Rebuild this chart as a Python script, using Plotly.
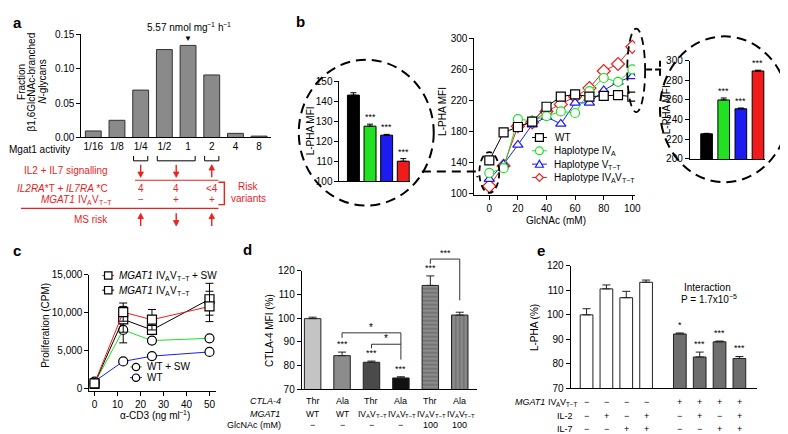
import re
import plotly.graph_objects as go

W, H = 788, 434
FONT = "Liberation Sans, Arial, Helvetica, sans-serif"
RED = "#e8231f"
C_BLACK = "#000000"
C_GREEN = "#22e022"
C_BLUE = "#1c1cf0"
C_RED = "#f01c1c"

# ---------------- data ----------------
# panel a
a_activity = ["1/16", "1/8", "1/4", "1/2", "1", "2", "4", "8"]
a_fraction = [0.0095, 0.025, 0.069, 0.128, 0.134, 0.091, 0.006, 0.002]
a_peak_label = "5.57 nmol mg<sup>−1</sup> h<sup>−1</sup>"
a_peak_category = "1"
a_ytitle = ["Fraction", "β1,6GlcNAc-branched", "<i>N</i>-glycans"]
a_rows = ["IL2 + IL7 signalling", "<i>IL2RA</i>*T + <i>IL7RA</i> *C",
          "<i>MGAT1</i> IV<sub>A</sub>V<sub>T−T</sub>", "MS risk"]
a_group_members = [["1/4"], ["1/2", "1"], ["2"]]
a_signalling = ["down", "down", "up"]
a_il_variants = ["4", "4", "&lt;4"]
a_mgat1_variant = ["−", "+", "+"]
a_ms_risk = ["up", "down", "up"]

# panel b
b_glcnac = [0, 10, 20, 30, 40, 50, 60, 70, 80, 90, 100]
b_wt = [143, 179, 186, 193, 212, 225, 228, 225, 226, 227, 225]
b_iva = [127, 133, 196, 194, 200, 206, 204, 232, 249, 244, 260]
b_vtt = [119, 138, 163, 189, 199, 190, 217, 217, 233, 244, 251]
b_ivavtt = [110, 136, 187, 192, 206, 215, 225, 236, 258, 267, 289]
b_names = ["WT", "Haplotype IV<sub>A</sub>", "Haplotype V<sub>T−T</sub>",
           "Haplotype IV<sub>A</sub>V<sub>T−T</sub>"]
b_inset0 = [143, 127.5, 123, 110]
b_inset0_err = [1.2, 1.0, 0.4, 1.3]
b_inset100 = [225.5, 260, 251, 289.5]
b_inset100_err = [0.5, 2.0, 0.8, 0.8]
b_inset_stars = ["", "***", "***", "***"]

# panel c
c_cd3 = [0, 12.5, 25, 50]
c_mgat1_sw = [650, 10050, 9050, 10800]
c_mgat1_sw_err = [300, 1200, 1350, 2000]
c_mgat1 = [600, 9100, 7700, 11750]
c_mgat1_err = [300, 1700, 600, 2100]
c_wt_sw = [650, 7700, 6300, 6600]
c_wt_sw_err = [200, 1700, 300, 200]
c_wt = [900, 3550, 4250, 4800]
c_wt_err = [200, 200, 200, 200]
c_names = ["<i>MGAT1</i> IV<sub>A</sub>V<sub>T−T</sub> + SW",
           "<i>MGAT1</i> IV<sub>A</sub>V<sub>T−T</sub>", "WT + SW", "WT"]

# panel d
d_ctla4 = ["Thr", "Ala", "Thr", "Ala", "Thr", "Ala"]
d_mgat1 = ["WT", "WT", "IV<sub>A</sub>V<sub>T−T</sub>", "IV<sub>A</sub>V<sub>T−T</sub>",
           "IV<sub>A</sub>V<sub>T−T</sub>", "IV<sub>A</sub>V<sub>T−T</sub>"]
d_glcnac = ["−", "−", "−", "−", "100", "100"]
d_values = [99.8, 84.2, 81.4, 74.8, 113.8, 101.3]
d_err = [0.6, 1.5, 0.5, 0.5, 4.0, 1.2]
d_stars = ["", "***", "***", "***", "***", ""]

# panel e
e_mgat1 = ["−", "−", "−", "−", "+", "+", "+", "+"]
e_il2 = ["−", "+", "−", "+", "−", "+", "−", "+"]
e_il7 = ["−", "−", "+", "+", "−", "−", "+", "+"]
e_values = [100, 110.6, 107, 113.3, 92.2, 82.8, 89, 82.2]
e_err = [2.5, 1.6, 2.6, 0.9, 0.4, 2.0, 0.3, 0.8]
e_stars = ["", "", "", "", "*", "***", "***", "***"]
e_interaction = ["Interaction", "P = 1.7x10<sup>−5</sup>"]

# ---------------- helpers ----------------
layout = dict(width=W, height=H, margin=dict(l=0, r=0, t=0, b=0),
              paper_bgcolor="white", plot_bgcolor="rgba(0,0,0,0)",
              showlegend=False, font=dict(family=FONT, size=10, color="black"))
shapes, annotations = [], []
AX = {}

# Arial / Liberation Sans advance widths (per 1000 em)
AW = {" ": 278, "+": 584, "−": 584, "-": 333, ".": 278, "=": 584, "(": 333, ")": 333,
      "α": 578, "0": 556, "1": 556, "3": 556, "5": 556, "7": 556,
      "A": 667, "C": 722, "D": 722, "G": 778, "H": 722, "I": 278, "M": 833, "P": 667,
      "S": 667, "T": 611, "V": 667, "W": 944,
      "a": 556, "e": 556, "g": 556, "h": 556, "l": 222, "m": 833, "n": 556, "o": 556,
      "p": 556, "t": 278, "x": 500, "y": 500}


def tw(s, size):
    return sum(AW.get(c, 556) for c in s) * size / 1000.0


def make_axes(n, xpx, xr, ypx, yr, xkw=None, ykw=None):
    sfx = "" if n == 1 else str(n)
    AX[n] = (xpx, xr, ypx, yr)
    base = dict(showline=True, linecolor="black", linewidth=1, showgrid=False,
                zeroline=False, ticks="outside", ticklen=4, tickwidth=1,
                tickcolor="black", tickfont=dict(size=10, family=FONT), fixedrange=True)
    xa = dict(base, domain=[xpx[0] / W, xpx[1] / W], range=xr, anchor="y" + sfx)
    ya = dict(base, domain=[1 - ypx[1] / H, 1 - ypx[0] / H], range=yr, anchor="x" + sfx)
    xa.update(xkw or {})
    ya.update(ykw or {})
    layout["xaxis" + sfx] = xa
    layout["yaxis" + sfx] = ya
    return "x" + sfx, "y" + sfx


def dpx(n, x, y=0):
    (x0, x1), (r0, r1), (yt, yb), (s0, s1) = AX[n]
    return (x0 + (x - r0) / (r1 - r0) * (x1 - x0), yb - (y - s0) / (s1 - s0) * (yb - yt))


def ann(text, x, y, size=10, color="black", xanchor="center", yanchor="middle", angle=0):
    annotations.append(dict(text=text, x=x / W, y=1 - y / H, xref="paper", yref="paper",
                            showarrow=False, font=dict(size=size, color=color, family=FONT),
                            xanchor=xanchor, yanchor=yanchor, textangle=angle))


def parse(s):
    segs = []
    for m in re.finditer(r"<(i|sub|sup)>(.*?)</\1>|([^<]+)", s):
        if m.group(3):
            segs.append((m.group(3), ""))
        else:
            segs.append((m.group(2), m.group(1)))
    return segs


def text(s, x, y, size=10, color="black", anchor="center"):
    """Text with sub/superscripts laid out as separate pieces."""
    if "<sub>" not in s and "<sup>" not in s:
        ann(s, x, y, size=size, color=color, xanchor=anchor)
        return
    segs = parse(s)
    ssz = lambda st: size * 0.7 if st in ("sub", "sup") else size
    total = sum(tw(t, ssz(st)) for t, st in segs)
    cur = x if anchor == "left" else (x - total if anchor == "right" else x - total / 2)
    for t, st in segs:
        sz = ssz(st)
        lead = len(t) - len(t.lstrip(" "))
        body = t.strip(" ")
        cur += tw(" " * lead, sz)
        if body:
            dy = {"sub": 0.32 * size, "sup": -0.32 * size}.get(st, 0)
            txt = "<i>%s</i>" % body if st == "i" else body
            annotations.append(dict(text=txt, x=cur / W, y=1 - (y + dy) / H, xref="paper",
                                    yref="paper", showarrow=False, xanchor="left",
                                    yanchor="middle", borderpad=0,
                                    font=dict(size=sz, color=color, family=FONT)))
        cur += tw(body, sz) + tw(" " * (len(t) - lead - len(body)), sz)


def label(letter, x, y):
    annotations.append(dict(text="<b>%s</b>" % letter, x=x / W, y=1 - y / H, xref="paper",
                            yref="paper", showarrow=False, xanchor="left", yanchor="middle",
                            font=dict(size=15, family=FONT, color="black")))


def path(points, color="black", width=1, dash=None, fill=None, closed=False):
    d = "M " + " L ".join(f"{x / W:.5f},{1 - y / H:.5f}" for x, y in points)
    if closed:
        d += " Z"
    shapes.append(dict(type="path", xref="paper", yref="paper", path=d,
                       line=dict(color=color, width=width, dash=dash),
                       fillcolor=fill if fill else "rgba(0,0,0,0)"))


def ellipse(cx, cy, rx, ry, width=2, dash="10px,6px"):
    shapes.append(dict(type="circle", xref="paper", yref="paper",
                       x0=(cx - rx) / W, x1=(cx + rx) / W,
                       y0=1 - (cy + ry) / H, y1=1 - (cy - ry) / H,
                       line=dict(color="black", width=width, dash=dash)))


def arrow(x, y_tail, y_head, color=RED):
    s = 1 if y_head > y_tail else -1
    path([(x, y_tail), (x, y_head - s * 4)], color, 1.4)
    path([(x - 2.8, y_head - s * 5.5), (x + 2.8, y_head - s * 5.5), (x, y_head)],
         color, 0.8, fill=color, closed=True)


def glyph(kind, cx, cy, s, color):
    h = s / 2
    if kind == "square":
        path([(cx - h, cy - h), (cx + h, cy - h), (cx + h, cy + h), (cx - h, cy + h)],
             color, 1.2, fill="white", closed=True)
    elif kind == "circle":
        shapes.append(dict(type="circle", xref="paper", yref="paper",
                           x0=(cx - h) / W, x1=(cx + h) / W, y0=1 - (cy + h) / H,
                           y1=1 - (cy - h) / H, fillcolor="white",
                           line=dict(color=color, width=1.2)))
    elif kind == "triangle":
        path([(cx, cy - h), (cx + h, cy + h * 0.8), (cx - h, cy + h * 0.8)],
             color, 1.2, fill="white", closed=True)
    elif kind == "diamond":
        path([(cx, cy - h), (cx + h, cy), (cx, cy + h), (cx - h, cy)],
             color, 1.2, fill="white", closed=True)


def legend_entry(kind, lcolor, mcolor, name, x0, x1, y, tx, gs=8):
    path([(x0, y), (x1, y)], lcolor, 1)
    glyph(kind, (x0 + x1) / 2, y, gs, mcolor)
    text(name, tx, y, size=10, anchor="left")


def stars(xref, yref, xs, tops, texts, size=9, shift=1):
    for x, t, s in zip(xs, tops, texts):
        if s:
            annotations.append(dict(text=s, x=x, y=t, xref=xref, yref=yref, showarrow=False,
                                    yanchor="bottom", yshift=shift,
                                    font=dict(size=size, family=FONT, color="black")))


fig = go.Figure()

# ---------------- panel a ----------------
label("a", 3, 9)
xa, ya = make_axes(1, (74, 265), [-0.5, 7.5], (21, 127), [0, 0.15],
                   xkw=dict(ticks="", type="category"),
                   ykw=dict(tickvals=[0, 0.05, 0.10, 0.15], tickformat=".2f"))
fig.add_trace(go.Bar(x=a_activity, y=a_fraction, width=0.67, xaxis=xa, yaxis=ya,
                     marker=dict(color="#8a8a8a", line=dict(color="#333333", width=1))))
pkx, _ = dpx(1, a_activity.index(a_peak_category))
text(a_peak_label, pkx, 14, size=10)
ann("▼", pkx, 25, size=8)
for i, t in enumerate(a_ytitle):
    ann(t, 13 + i * 10.5, 70, angle=-90, size=10)
ann("Mgat1 activity", 64, 139, xanchor="right")

centers = []
for grp in a_group_members:
    idx = [a_activity.index(g) for g in grp]
    xl, _ = dpx(1, min(idx) - 0.3)
    xr_, _ = dpx(1, max(idx) + 0.3)
    xc, _ = dpx(1, sum(idx) / len(idx))
    centers.append(xc)
    path([(xl, 146), (xl, 151), (xr_, 151), (xr_, 146)], "black", 1)

row_y = [161, 179, 191, 211]
for i, t in enumerate(a_rows):
    text(t, 103, row_y[i], color=RED, anchor="right")
for xc, d in zip(centers, a_signalling):
    if d == "down":
        arrow(xc, 155, 168)
    else:
        arrow(xc, 168, 155)
for xc, d in zip(centers, a_ms_risk):
    if d == "down":
        arrow(xc, 205, 218)
    else:
        arrow(xc, 218, 205)
for xc, t in zip(centers, a_il_variants):
    ann(t, xc, 179, color=RED)
for xc, t in zip(centers, a_mgat1_variant):
    ann(t, xc, 191, color=RED)
path([(128, 171), (212, 171)], RED, 1.2)
path([(13, 200), (212, 200)], RED, 1.2)
path([(212, 173), (218, 173), (218, 196), (212, 196)], RED, 1.4)
ann("Risk", 242, 177, color=RED)
ann("variants", 242, 190, color=RED)

# ---------------- panel b ----------------
label("b", 288, 8)
bar_cols = [C_BLACK, C_GREEN, C_BLUE, C_RED]
# left inset
xa, ya = make_axes(2, (334, 405), [-0.84, 3.4], (69, 172), [100, 150],
                   xkw=dict(ticks="", showticklabels=False),
                   ykw=dict(tickvals=[100, 110, 120, 130, 140, 150]))
fig.add_trace(go.Bar(x=list(range(4)), y=b_inset0, width=0.72, xaxis=xa, yaxis=ya,
                     marker=dict(color=bar_cols, line=dict(color="black", width=1)),
                     error_y=dict(type="data", symmetric=False, array=b_inset0_err,
                                  arrayminus=[0] * 4, color="black", thickness=1, width=3)))
stars(xa, ya, list(range(4)), [v + e for v, e in zip(b_inset0, b_inset0_err)], b_inset_stars, shift=0)
ann("L-PHA MFI", 305, 120, angle=-90)
ellipse(361, 122, 68, 75)

# main
xa, ya = make_axes(3, (470, 632), [-10.4, 102], (25, 186), [98.75, 300],
                   xkw=dict(tickvals=[0, 20, 40, 60, 80, 100]),
                   ykw=dict(tickvals=[100, 140, 180, 220, 260, 300]))
series = [(b_ivavtt, C_RED, "diamond", 10), (b_vtt, C_BLUE, "triangle-up", 9),
          (b_iva, C_GREEN, "circle", 9), (b_wt, C_BLACK, "square", 9)]
for ys, col, sym, sz in series:
    fig.add_trace(go.Scatter(x=b_glcnac, y=ys, mode="lines+markers", xaxis=xa, yaxis=ya,
                             line=dict(color=col, width=1),
                             marker=dict(symbol=sym, size=sz, color="white",
                                         line=dict(color=col, width=1.2))))
ann("L-PHA MFI", 438, 100, angle=-90)
ann("GlcNAc (mM)", 552, 212)
kinds = ["square", "circle", "triangle", "diamond"]
for i, (nm, col, kd) in enumerate(zip(b_names, bar_cols, kinds)):
    legend_entry(kd, col, col, nm, 528, 543, 127 + i * 13.7, 549)
ellipse(485, 163, 10, 21, width=1.8, dash="6px,4px")
ellipse(633, 58, 9, 43, width=1.8, dash="8px,5px")
path([(417, 162), (473, 162), (473, 168)], "black", 2, dash="9px,6px")
path([(643, 57), (660, 57)], "black", 2, dash="6px,3px")
path([(657, 48), (657, 64)], "black", 2, dash="6px,3px")

# right inset
xa, ya = make_axes(4, (687, 763), [-0.98, 3.42], (48, 149), [200, 300],
                   xkw=dict(ticks="", showticklabels=False),
                   ykw=dict(tickvals=[200, 220, 240, 260, 280, 300]))
fig.add_trace(go.Bar(x=list(range(4)), y=b_inset100, width=0.68, xaxis=xa, yaxis=ya,
                     marker=dict(color=bar_cols, line=dict(color="black", width=1)),
                     error_y=dict(type="data", symmetric=False, array=b_inset100_err,
                                  arrayminus=[0] * 4, color="black", thickness=1, width=3)))
stars(xa, ya, list(range(4)), [v + e for v, e in zip(b_inset100, b_inset100_err)], b_inset_stars, shift=0)
ann("L-PHA MFI", 663, 98, angle=-90)
ellipse(722, 98, 65, 75)

# ---------------- panel c ----------------
label("c", 3, 243)
xa, ya = make_axes(5, (82, 210), [-2.2, 53], (268, 388), [-385, 15000],
                   xkw=dict(tickvals=[0, 10, 20, 30, 40, 50]),
                   ykw=dict(tickvals=[0, 5000, 10000, 15000], tickformat=","))
c_series = [(c_wt, c_wt_err, C_BLUE, "circle"), (c_wt_sw, c_wt_sw_err, C_GREEN, "circle"),
            (c_mgat1, c_mgat1_err, C_BLACK, "square"),
            (c_mgat1_sw, c_mgat1_sw_err, C_RED, "square")]
for ys, er, col, sym in c_series:
    fig.add_trace(go.Scatter(x=c_cd3, y=ys, mode="lines+markers", xaxis=xa, yaxis=ya,
                             line=dict(color=col, width=1),
                             error_y=dict(type="data", array=er, color="black",
                                          thickness=1, width=4),
                             marker=dict(symbol=sym, size=9, color="white",
                                         line=dict(color="black", width=1.2))))
ann("Proliferation (CPM)", 37, 320, angle=-90)
text("α-CD3 (ng ml<sup>−1</sup>)", 147, 413)
legend_entry("square", C_RED, "black", c_names[0], 95, 107, 269, 111, gs=7.5)
legend_entry("square", C_BLACK, "black", c_names[1], 95, 107, 284, 111, gs=7.5)
legend_entry("circle", C_GREEN, "black", c_names[2], 123, 135, 363, 138, gs=7.5)
legend_entry("circle", C_BLUE, "black", c_names[3], 123, 135, 374, 138, gs=7.5)

# ---------------- panel d ----------------
label("d", 235, 242)
xa, ya = make_axes(6, (296, 473), [-0.37, 5.6], (264, 386), [70, 120],
                   xkw=dict(ticks="", showticklabels=False),
                   ykw=dict(tickvals=[70, 80, 90, 100, 110, 120]))
d_cols = ["#c4c4c4", "#8c8c8c", "#4a4a4a", "#111111", "#8a8a8a", "#8a8a8a"]
fig.add_trace(go.Bar(x=list(range(6)), y=d_values, width=0.56, xaxis=xa, yaxis=ya,
                     marker=dict(color=d_cols, line=dict(color="#222222", width=1),
                                 pattern=dict(shape=["", "", "", "", "-", "|"],
                                              bgcolor="white", size=4, solidity=0.3)),
                     error_y=dict(type="data", symmetric=False, array=d_err,
                                  arrayminus=[0] * 6, color="#222222", thickness=1, width=4)))
stars(xa, ya, list(range(6)), [v + e for v, e in zip(d_values, d_err)], d_stars)
pa = [dpx(6, 1, 91.7), dpx(6, 1, 93.8), dpx(6, 3, 93.8), dpx(6, 3, 82.5)]
path(pa, "#333333", 1)
pb = [dpx(6, 2, 87.3), dpx(6, 2, 89.0), dpx(6, 3, 89.0)]
path(pb, "#333333", 1)
pc = [dpx(6, 4, 122.9), dpx(6, 4, 124.9), dpx(6, 5, 124.9), dpx(6, 5, 107.5)]
path(pc, "#333333", 1)
x_, y_ = dpx(6, 2, 93.8)
ann("*", x_, y_ - 6, size=10)
x_, y_ = dpx(6, 2.5, 89.0)
ann("*", x_, y_ - 6, size=10)
x_, y_ = dpx(6, 4.5, 124.9)
ann("***", x_, y_ - 6, size=9)
ann("CTLA-4 MFI (%)", 263, 325, angle=-90)
d_row_y = [398, 411, 423]
ann("<i>CTLA-4</i>", 277, d_row_y[0], size=9, xanchor="right")
ann("<i>MGAT1</i>", 276, d_row_y[1], size=9, xanchor="right")
ann("GlcNAc (mM)", 277, d_row_y[2], size=9, xanchor="right")
for i in range(len(d_values)):
    xc, _ = dpx(6, i)
    ann(d_ctla4[i], xc, d_row_y[0], size=9)
    text(d_mgat1[i], xc, d_row_y[1], size=8.5)
    ann(d_glcnac[i], xc, d_row_y[2], size=9)

# ---------------- panel e ----------------
label("e", 531, 243)
xa, ya = make_axes(7, (567, 755), [-0.8, 8.6], (259, 385), [70, 120],
                   xkw=dict(ticks="", showticklabels=False),
                   ykw=dict(tickvals=[70, 80, 90, 100, 110, 120]))
e_pos = [i + 0.7 * (1 if e_mgat1[i] == "+" else 0) for i in range(len(e_values))]
e_cols = ["white" if m == "−" else "#6e6e6e" for m in e_mgat1]
fig.add_trace(go.Bar(x=e_pos, y=e_values, width=0.64, xaxis=xa, yaxis=ya,
                     marker=dict(color=e_cols, line=dict(color="#222222", width=1)),
                     error_y=dict(type="data", symmetric=False, array=e_err,
                                  arrayminus=[0] * 8, color="#222222", thickness=1, width=4)))
stars(xa, ya, e_pos, [v + e for v, e in zip(e_values, e_err)], e_stars)
text(e_interaction[0], 705, 281)
text(e_interaction[1], 705, 294)
ann("L-PHA (%)", 530, 322, angle=-90)
e_row_y = [399, 413, 427]
text("<i>MGAT1</i> IV<sub>A</sub>V<sub>T−T</sub>", 573, e_row_y[0], size=9, anchor="right")
ann("IL-2", 571, e_row_y[1], size=9, xanchor="right")
ann("IL-7", 571, e_row_y[2], size=9, xanchor="right")
for i in range(len(e_values)):
    xc, _ = dpx(7, e_pos[i])
    ann(e_mgat1[i], xc, e_row_y[0], size=9)
    ann(e_il2[i], xc, e_row_y[1], size=9)
    ann(e_il7[i], xc, e_row_y[2], size=9)

layout["shapes"] = shapes
layout["annotations"] = annotations
fig.update_layout(**layout)
fig.write_html("out.html")
